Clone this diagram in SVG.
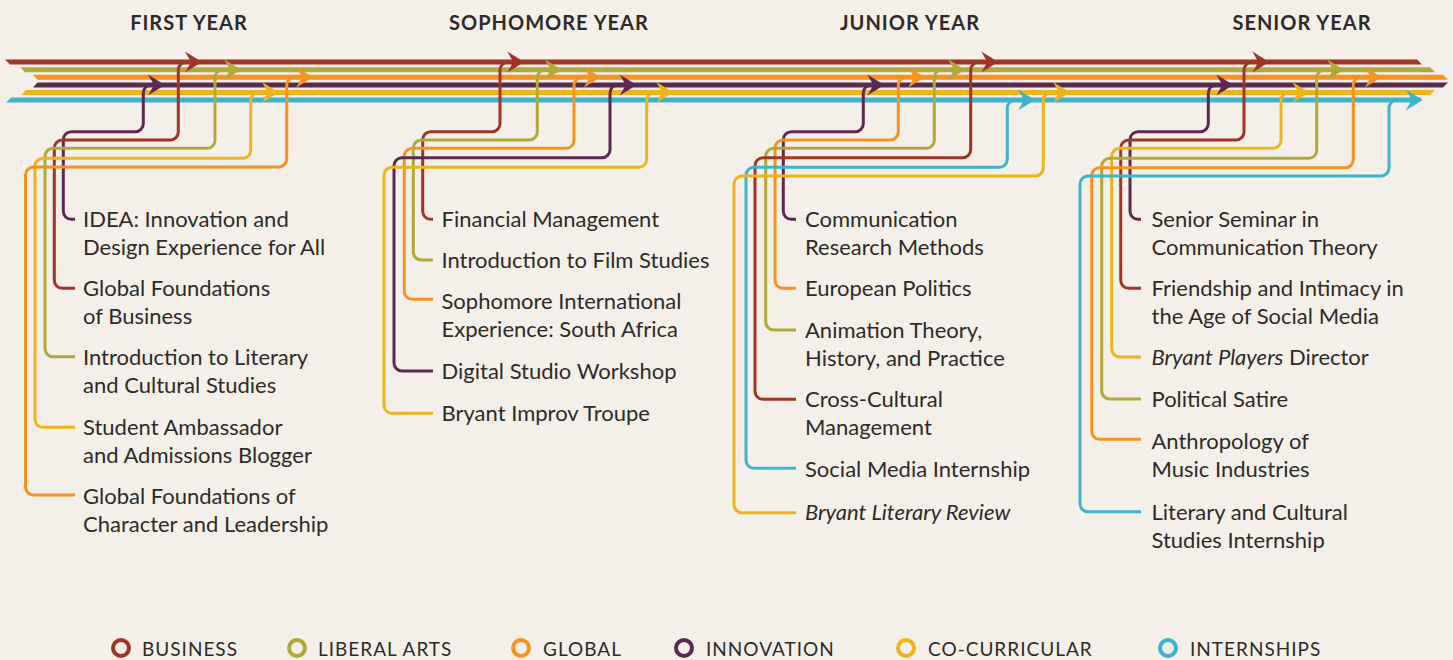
<svg xmlns="http://www.w3.org/2000/svg" width="1453" height="660" viewBox="0 0 1453 660">
<style>
.bg{fill:#f4f0e9}
.t{font-family:Lato,"Liberation Sans",sans-serif;font-size:22px;fill:#2e2a27}
.i{font-style:italic}
.h{font-family:Lato,"Liberation Sans",sans-serif;font-size:20px;font-weight:bold;fill:#2e2a27;text-anchor:middle;letter-spacing:1px}
.lg{font-family:Lato,"Liberation Sans",sans-serif;font-size:19px;fill:#2e2a27;letter-spacing:1px}
.b{fill:none;stroke-width:3;stroke-linejoin:round}
.ring{fill:none;stroke-width:4}
.red{stroke:#a03427}.oli{stroke:#b0a93a}.ora{stroke:#f6931f}.pur{stroke:#5d2850}.yel{stroke:#edb41b}.blu{stroke:#3eb3cc}
</style>
<defs>
<marker id="m-red" markerUnits="userSpaceOnUse" viewBox="-20 -12 30 24" markerWidth="30" markerHeight="24" refX="0" refY="0" orient="auto"><path d="M8,0 L-9,-10.5 L-3,0 L-9,10.5 Z" fill="#a03427"/></marker>
<marker id="m-oli" markerUnits="userSpaceOnUse" viewBox="-20 -12 30 24" markerWidth="30" markerHeight="24" refX="0" refY="0" orient="auto"><path d="M8,0 L-9,-10.5 L-3,0 L-9,10.5 Z" fill="#b0a93a"/></marker>
<marker id="m-ora" markerUnits="userSpaceOnUse" viewBox="-20 -12 30 24" markerWidth="30" markerHeight="24" refX="0" refY="0" orient="auto"><path d="M8,0 L-9,-10.5 L-3,0 L-9,10.5 Z" fill="#f6931f"/></marker>
<marker id="m-pur" markerUnits="userSpaceOnUse" viewBox="-20 -12 30 24" markerWidth="30" markerHeight="24" refX="0" refY="0" orient="auto"><path d="M8,0 L-9,-10.5 L-3,0 L-9,10.5 Z" fill="#5d2850"/></marker>
<marker id="m-yel" markerUnits="userSpaceOnUse" viewBox="-20 -12 30 24" markerWidth="30" markerHeight="24" refX="0" refY="0" orient="auto"><path d="M8,0 L-9,-10.5 L-3,0 L-9,10.5 Z" fill="#edb41b"/></marker>
<marker id="m-blu" markerUnits="userSpaceOnUse" viewBox="-20 -12 30 24" markerWidth="30" markerHeight="24" refX="0" refY="0" orient="auto"><path d="M8,0 L-9,-10.5 L-3,0 L-9,10.5 Z" fill="#3eb3cc"/></marker>
</defs>
<rect class="bg" x="0" y="0" width="1453" height="660"/>

<g id="headers">
<text class="h" x="189" y="30">FIRST YEAR</text>
<text class="h" x="549" y="30">SOPHOMORE YEAR</text>
<text class="h" x="910" y="30">JUNIOR YEAR</text>
<text class="h" x="1302" y="30">SENIOR YEAR</text>
</g>

<g id="tracks">
<polygon points="5,59.5 1417,59.5 1422,64.5 10,64.5" fill="#a03427"/>
<polygon points="20,67.2 1430,67.2 1435,72.2 25,72.2" fill="#b0a93a"/>
<polygon points="33,74.8 1443,74.8 1448,79.8 37.5,79.8" fill="#f6931f"/>
<polygon points="37.5,82.4 1448,82.4 1443,87.4 33,87.4" fill="#5d2850"/>
<polygon points="26,90 1435,90 1430,95 21,95" fill="#edb41b"/>
<polygon points="11,97.6 1422,97.6 1417,102.6 6,102.6" fill="#3eb3cc"/>
</g>

<g id="connectors">
<!-- first year -->
<path class="b pur" marker-end="url(#m-pur)" d="M75 219.3 H71.3 A8 8 0 0 1 63.3 211.3 V139.7 A8 8 0 0 1 71.3 131.7 H135.3 A8 8 0 0 0 143.3 123.7 V92.9 A8 8 0 0 1 151.3 84.9 H157"/>
<path class="b red" marker-end="url(#m-red)" d="M75 288.3 H62.3 A8 8 0 0 1 54.3 280.3 V148 A8 8 0 0 1 62.3 140 H170.3 A8 8 0 0 0 178.3 132 V70 A8 8 0 0 1 186.3 62 H194"/>
<path class="b oli" marker-end="url(#m-oli)" d="M75 356.7 H53 A8 8 0 0 1 45 348.7 V156.3 A8 8 0 0 1 53 148.3 H207 A8 8 0 0 0 215 140.3 V77.7 A8 8 0 0 1 223 69.7 H233"/>
<path class="b yel" marker-end="url(#m-yel)" d="M75 427.3 H43 A8 8 0 0 1 35 419.3 V166.3 A8 8 0 0 1 43 158.3 H242.7 A8 8 0 0 0 250.7 150.3 V100.5 A8 8 0 0 1 258.7 92.5 H271"/>
<path class="b ora" marker-end="url(#m-ora)" d="M75 495 H33.5 A8 8 0 0 1 25.5 487 V175 A8 8 0 0 1 33.5 167 H278.7 A8 8 0 0 0 286.7 159 V85.3 A8 8 0 0 1 294.7 77.3 H305"/>
<!-- sophomore -->
<path class="b red" marker-end="url(#m-red)" d="M433 219.3 H430.7 A8 8 0 0 1 422.7 211.3 V139.7 A8 8 0 0 1 430.7 131.7 H492 A8 8 0 0 0 500 123.7 V70 A8 8 0 0 1 508 62 H516.3"/>
<path class="b oli" marker-end="url(#m-oli)" d="M433 260 H421.3 A8 8 0 0 1 413.3 252 V148 A8 8 0 0 1 421.3 140 H529.3 A8 8 0 0 0 537.3 132 V77.7 A8 8 0 0 1 545.3 69.7 H553.7"/>
<path class="b ora" marker-end="url(#m-ora)" d="M433 299.3 H412.3 A8 8 0 0 1 404.3 291.3 V156.3 A8 8 0 0 1 412.3 148.3 H566 A8 8 0 0 0 574 140.3 V85.3 A8 8 0 0 1 582 77.3 H592.7"/>
<path class="b pur" marker-end="url(#m-pur)" d="M433 371 H402 A8 8 0 0 1 394 363 V165.7 A8 8 0 0 1 402 157.7 H602 A8 8 0 0 0 610 149.7 V92.9 A8 8 0 0 1 618 84.9 H628.7"/>
<path class="b yel" marker-end="url(#m-yel)" d="M433 413.3 H392 A8 8 0 0 1 384 405.3 V175.3 A8 8 0 0 1 392 167.3 H638.7 A8 8 0 0 0 646.7 159.3 V100.5 A8 8 0 0 1 654.7 92.5 H665.3"/>
<!-- junior -->
<path class="b pur" marker-end="url(#m-pur)" d="M796 219.3 H791.3 A8 8 0 0 1 783.3 211.3 V139.7 A8 8 0 0 1 791.3 131.7 H855.3 A8 8 0 0 0 863.3 123.7 V92.9 A8 8 0 0 1 871.3 84.9 H876.3"/>
<path class="b ora" marker-end="url(#m-ora)" d="M796 288.3 H783 A8 8 0 0 1 775 280.3 V148 A8 8 0 0 1 783 140 H890.3 A8 8 0 0 0 898.3 132 V85.3 A8 8 0 0 1 906.3 77.3 H917"/>
<path class="b oli" marker-end="url(#m-oli)" d="M796 330 H773.7 A8 8 0 0 1 765.7 322 V156.3 A8 8 0 0 1 773.7 148.3 H926.3 A8 8 0 0 0 934.3 140.3 V77.7 A8 8 0 0 1 942.3 69.7 H957"/>
<path class="b red" marker-end="url(#m-red)" d="M796 399.3 H763 A8 8 0 0 1 755 391.3 V165.7 A8 8 0 0 1 763 157.7 H962.7 A8 8 0 0 0 970.7 149.7 V70 A8 8 0 0 1 978.7 62 H990.3"/>
<path class="b blu" marker-end="url(#m-blu)" d="M796 468.3 H754 A8 8 0 0 1 746 460.3 V175.3 A8 8 0 0 1 754 167.3 H999.3 A8 8 0 0 0 1007.3 159.3 V108.1 A8 8 0 0 1 1015.3 100.1 H1027"/>
<path class="b yel" marker-end="url(#m-yel)" d="M796 512.7 H742 A8 8 0 0 1 734 504.7 V184 A8 8 0 0 1 742 176 H1035.3 A8 8 0 0 0 1043.3 168 V100.5 A8 8 0 0 1 1051.3 92.5 H1062"/>
<!-- senior -->
<path class="b pur" marker-end="url(#m-pur)" d="M1141 219.3 H1138 A8 8 0 0 1 1130 211.3 V139.7 A8 8 0 0 1 1138 131.7 H1200.3 A8 8 0 0 0 1208.3 123.7 V92.9 A8 8 0 0 1 1216.3 84.9 H1225.3"/>
<path class="b red" marker-end="url(#m-red)" d="M1141 288.3 H1128.7 A8 8 0 0 1 1120.7 280.3 V148 A8 8 0 0 1 1128.7 140 H1236 A8 8 0 0 0 1244 132 V70 A8 8 0 0 1 1252 62 H1261.3"/>
<path class="b yel" marker-end="url(#m-yel)" d="M1141 357 H1119.7 A8 8 0 0 1 1111.7 349 V156.3 A8 8 0 0 1 1119.7 148.3 H1273 A8 8 0 0 0 1281 140.3 V100.5 A8 8 0 0 1 1289 92.5 H1301.3"/>
<path class="b oli" marker-end="url(#m-oli)" d="M1141 399 H1109.7 A8 8 0 0 1 1101.7 391 V166.3 A8 8 0 0 1 1109.7 158.3 H1308.7 A8 8 0 0 0 1316.7 150.3 V77.7 A8 8 0 0 1 1324.7 69.7 H1336"/>
<path class="b ora" marker-end="url(#m-ora)" d="M1141 439.3 H1099.7 A8 8 0 0 1 1091.7 431.3 V175.7 A8 8 0 0 1 1099.7 167.7 H1345.3 A8 8 0 0 0 1353.3 159.7 V85.3 A8 8 0 0 1 1361.3 77.3 H1373.7"/>
<path class="b blu" marker-end="url(#m-blu)" d="M1141 511.7 H1088 A8 8 0 0 1 1080 503.7 V184 A8 8 0 0 1 1088 176 H1381 A8 8 0 0 0 1389 168 V108.1 A8 8 0 0 1 1397 100.1 H1414.7"/>
</g>

<g id="first-year">
<g id="fy-idea"><text class="t" x="83" y="226.5">IDEA: Innovation and</text><text class="t" x="83" y="254.5">Design Experience for All</text></g>
<g id="fy-gfb"><text class="t" x="83" y="296">Global Foundations</text><text class="t" x="83" y="324">of Business</text></g>
<g id="fy-ilcs"><text class="t" x="83" y="365">Introduction to Literary</text><text class="t" x="83" y="393">and Cultural Studies</text></g>
<g id="fy-sa"><text class="t" x="83" y="435">Student Ambassador</text><text class="t" x="83" y="463">and Admissions Blogger</text></g>
<g id="fy-gfcl"><text class="t" x="83" y="504">Global Foundations of</text><text class="t" x="83" y="532">Character and Leadership</text></g>
</g>

<g id="sophomore-year">
<g id="so-fm"><text class="t" x="441.5" y="226.5">Financial Management</text></g>
<g id="so-ifs"><text class="t" x="441.5" y="268">Introduction to Film Studies</text></g>
<g id="so-sie"><text class="t" x="441.5" y="309">Sophomore International</text><text class="t" x="441.5" y="337">Experience: South Africa</text></g>
<g id="so-dsw"><text class="t" x="441.5" y="379">Digital Studio Workshop</text></g>
<g id="so-bit"><text class="t" x="441.5" y="421">Bryant Improv Troupe</text></g>
</g>

<g id="junior-year">
<g id="ju-crm"><text class="t" x="805" y="226.5">Communication</text><text class="t" x="805" y="254.5">Research Methods</text></g>
<g id="ju-ep"><text class="t" x="805" y="296">European Politics</text></g>
<g id="ju-at"><text class="t" x="805" y="337.5">Animation Theory,</text><text class="t" x="805" y="365.5">History, and Practice</text></g>
<g id="ju-ccm"><text class="t" x="805" y="407">Cross-Cultural</text><text class="t" x="805" y="435">Management</text></g>
<g id="ju-smi"><text class="t" x="805" y="476.5">Social Media Internship</text></g>
<g id="ju-blr"><text class="t i" x="805" y="519.5">Bryant Literary Review</text></g>
</g>

<g id="senior-year">
<g id="se-ss"><text class="t" x="1151.5" y="226.5">Senior Seminar in</text><text class="t" x="1151.5" y="254.5">Communication Theory</text></g>
<g id="se-fi"><text class="t" x="1151.5" y="296">Friendship and Intimacy in</text><text class="t" x="1151.5" y="324">the Age of Social Media</text></g>
<g id="se-bp"><text class="t" x="1151.5" y="365"><tspan class="i">Bryant Players</tspan> Director</text></g>
<g id="se-ps"><text class="t" x="1151.5" y="407">Political Satire</text></g>
<g id="se-am"><text class="t" x="1151.5" y="448.5">Anthropology of</text><text class="t" x="1151.5" y="476.5">Music Industries</text></g>
<g id="se-lcs"><text class="t" x="1151.5" y="519.5">Literary and Cultural</text><text class="t" x="1151.5" y="547.5">Studies Internship</text></g>
</g>

<g id="legend">
<g id="lg-business"><circle class="ring red" cx="121" cy="648" r="8"/><text class="lg" x="142" y="656">BUSINESS</text></g>
<g id="lg-liberal"><circle class="ring oli" cx="297" cy="648" r="8"/><text class="lg" x="318" y="656">LIBERAL ARTS</text></g>
<g id="lg-global"><circle class="ring ora" cx="521" cy="648" r="8"/><text class="lg" x="543" y="656">GLOBAL</text></g>
<g id="lg-innovation"><circle class="ring pur" cx="684" cy="648" r="8"/><text class="lg" x="706" y="656">INNOVATION</text></g>
<g id="lg-cocurricular"><circle class="ring yel" cx="906" cy="648" r="8"/><text class="lg" x="928" y="656">CO-CURRICULAR</text></g>
<g id="lg-internships"><circle class="ring blu" cx="1168" cy="648" r="8"/><text class="lg" x="1190" y="656">INTERNSHIPS</text></g>
</g>
</svg>
